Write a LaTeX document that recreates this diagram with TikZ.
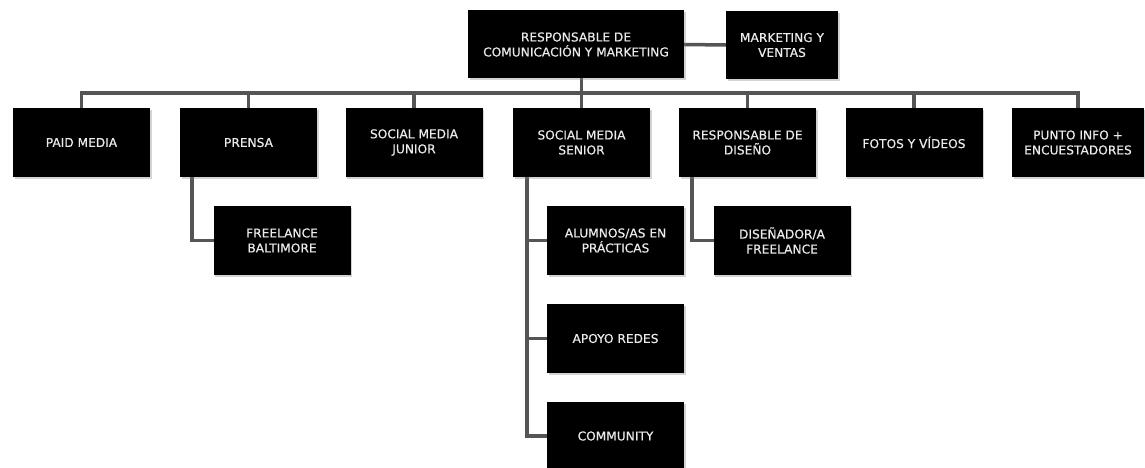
\documentclass[tikz,border=0pt]{standalone}
\usepackage{fontspec}
\setmainfont{DejaVu Sans}
\newfontfamily\boxfont[FakeBold=0.5]{DejaVu Sans}
\usetikzlibrary{shadows}
\pgfdeclarelayer{bg}
\pgfsetlayers{bg,main}
\definecolor{linegray}{HTML}{555555}
\definecolor{txt}{HTML}{EBEBEB}
\tikzset{
  box/.style={fill=black, draw=none, text=txt, align=center, inner sep=2pt,
    font=\boxfont\fontsize{12.2}{15}\selectfont,
    drop shadow={shadow xshift=1.5pt, shadow yshift=-2pt, opacity=0.35, fill=gray}},
  rowbox/.style={box, minimum width=137pt, minimum height=69pt},
  conn/.style={draw=linegray, line width=3.5pt, line cap=rect}
}
\begin{document}
\begin{tikzpicture}[x=1pt, y=-1pt]
\useasboundingbox (0,0) rectangle (1145,468);
% top level
\node[box, minimum width=216pt, minimum height=68pt] (top) at (576,44.5) {RESPONSABLE DE\\COMUNICACIÓN Y MARKETING};
\node[box, minimum width=112pt, minimum height=68pt] (mv) at (782,45) {MARKETING Y\\VENTAS};
% row 1
\node[rowbox] (paid) at (81.5,142.5) {PAID MEDIA};
\node[rowbox] (prensa) at (248.5,142.5) {PRENSA};
\node[rowbox] (smj) at (414,142.5) {SOCIAL MEDIA\\JUNIOR};
\node[rowbox] (sms) at (581.5,142.5) {SOCIAL MEDIA\\SENIOR};
\node[rowbox] (rd) at (747.5,142.5) {RESPONSABLE DE\\DISEÑO};
\node[rowbox] (fotos) at (914,142.5) {FOTOS Y VÍDEOS};
\node[rowbox, minimum width=132pt] (punto) at (1078,142.5) {PUNTO INFO +\\ENCUESTADORES};
% row 2 and below
\node[rowbox] (fb) at (282,240.5) {FREELANCE\\BALTIMORE};
\node[rowbox] (alu) at (615.5,240.5) {ALUMNOS/AS EN\\PRÁCTICAS};
\node[rowbox] (dis) at (782,240.5) {DISEÑADOR/A\\FREELANCE};
\node[rowbox] (apoyo) at (615.5,338.5) {APOYO REDES};
\node[rowbox] (comm) at (615.5,436) {COMMUNITY};
% coordinates
\coordinate (bus) at (0,93);
\coordinate (pl) at (192,177);
\coordinate (sl) at (527,177);
\coordinate (dl) at (692,177);
% connectors
\begin{pgfonlayer}{bg}
\draw[conn] (top.east) -- (mv.west);
\draw[conn] (top.south -| sms.north) -- (sms.north);
\draw[conn] (paid.north |- bus) -- (punto.north |- bus);
\foreach \n in {paid,prensa,smj,rd,fotos,punto} {
  \draw[conn] (\n.north) -- (\n.north |- bus);
}
\draw[conn] (pl) |- (fb.west);
\draw[conn] (sl) |- (comm.west);
\draw[conn] (alu.west) -- (alu.west -| sl);
\draw[conn] (apoyo.west) -- (apoyo.west -| sl);
\draw[conn] (dl) |- (dis.west);
\end{pgfonlayer}
\end{tikzpicture}
\end{document}
